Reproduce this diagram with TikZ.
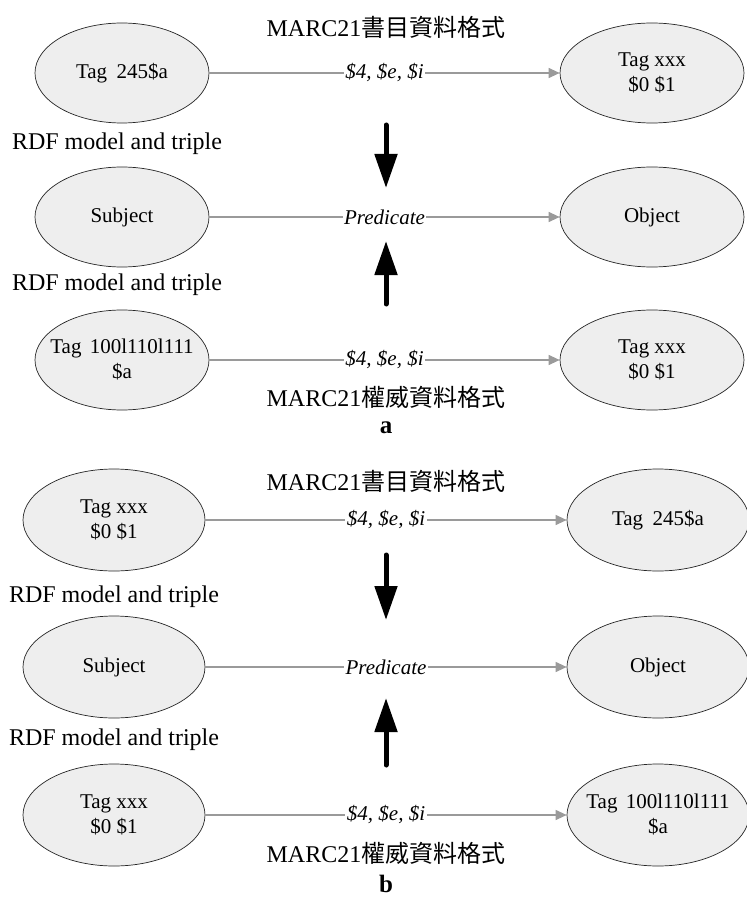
\documentclass[tikz,border=0pt]{standalone}
\usepackage{fontspec}
\setmainfont{Liberation Serif}
\newfontfamily\cjkfont{Noto Sans CJK TC}
\usetikzlibrary{shapes.geometric,arrows.meta}
\definecolor{ellfill}{HTML}{EEEEEE}
\definecolor{connc}{HTML}{9A9A9A}
\begin{document}
\begin{tikzpicture}[x=1pt,y=-1pt,
  ell/.style={ellipse, draw=black!85, line width=0.7pt, fill=ellfill, inner sep=0pt,
    align=center, font=\fontsize{21}{25}\selectfont},
  etext/.style={inner sep=0pt, align=center, font=\fontsize{21}{25}\selectfont},
  conn/.style={draw=connc, line width=1.1pt, -{Triangle[width=10pt,length=11pt]}},
  lbl/.style={fill=white, inner sep=1.5pt, font=\fontsize{21}{25}\selectfont\itshape},
  bigarrow/.style={line width=5pt, line cap=round, -{Triangle[width=22pt,length=34pt]}},
  title/.style={inner sep=0pt, font=\fontsize{24}{28}\selectfont},
  rdf/.style={inner sep=0pt, font=\fontsize{24}{28}\selectfont},
  panel/.style={inner sep=0pt, font=\fontsize{25}{28}\selectfont\bfseries}]
\path[fill=white, use as bounding box] (0,0) rectangle (746,901);

% ---------- panel a ----------
\node[title] (ta1) at (386,27) {MARC21{\cjkfont 書目資料格式}};
\node[ell, minimum width=174pt, minimum height=100pt] (a1L) at (122,73) {Tag\hspace{0.45em}245\$a};
\node[ell, minimum width=184pt, minimum height=100pt] (a1R) at (652,73) {Tag xxx\\\$0 \$1};
\draw[conn] (a1L) -- node[lbl] {\$4, \$e, \$i} (a1R);

\node[rdf] (ra1) at (117,144) {RDF model and triple};
\coordinate (da1) at (386,125);
\coordinate (da2) at (386,188);
\draw[bigarrow] (da1) -- (da2);

\node[ell, minimum width=174pt, minimum height=100pt] (a2L) at (122,217) {Subject};
\node[ell, minimum width=184pt, minimum height=100pt] (a2R) at (652,217) {Object};
\draw[conn] (a2L) -- node[lbl] {Predicate} (a2R);

\node[rdf] (ra2) at (117,285) {RDF model and triple};
\coordinate (ua1) at (386,304);
\coordinate (ua2) at (386,241);
\draw[bigarrow] (ua1) -- (ua2);

\node[ell, minimum width=174pt, minimum height=100pt] (a3L) at (122,360) {};
\node[etext] (a3Lt) at (a3L.center) {Tag\hspace{0.4em}100l110l111\\\$a};
\node[ell, minimum width=184pt, minimum height=100pt] (a3R) at (652,360) {Tag xxx\\\$0 \$1};
\draw[conn] (a3L) -- node[lbl] {\$4, \$e, \$i} (a3R);
\node[title] (ta2) at (386,397) {MARC21{\cjkfont 權威資料格式}};
\node[panel] (pa) at (386,428) {a};

% ---------- panel b ----------
\node[title] (tb1) at (386,481) {MARC21{\cjkfont 書目資料格式}};
\node[ell, minimum width=182pt, minimum height=102pt] (b1L) at (114,520) {Tag xxx\\\$0 \$1};
\node[ell, minimum width=182pt, minimum height=102pt] (b1R) at (658,520) {Tag\hspace{0.45em}245\$a};
\draw[conn] (b1L) -- node[lbl] {\$4, \$e, \$i} (b1R);

\node[rdf] (rb1) at (114,597) {RDF model and triple};
\coordinate (db1) at (386,555);
\coordinate (db2) at (386,620);
\draw[bigarrow] (db1) -- (db2);

\node[ell, minimum width=182pt, minimum height=102pt] (b2L) at (114,667) {Subject};
\node[ell, minimum width=182pt, minimum height=102pt] (b2R) at (658,667) {Object};
\draw[conn] (b2L) -- node[lbl] {Predicate} (b2R);

\node[rdf] (rb2) at (114,740) {RDF model and triple};
\coordinate (ub1) at (386,765);
\coordinate (ub2) at (386,698);
\draw[bigarrow] (ub1) -- (ub2);

\node[ell, minimum width=182pt, minimum height=102pt] (b3L) at (114,815) {Tag xxx\\\$0 \$1};
\node[ell, minimum width=182pt, minimum height=102pt] (b3R) at (658,815) {};
\node[etext] (b3Rt) at (b3R.center) {Tag\hspace{0.4em}100l110l111\\\$a};
\draw[conn] (b3L) -- node[lbl] {\$4, \$e, \$i} (b3R);
\node[title] (tb2) at (386,853) {MARC21{\cjkfont 權威資料格式}};
\node[panel] (pb) at (386,884) {b};
\end{tikzpicture}
\end{document}
